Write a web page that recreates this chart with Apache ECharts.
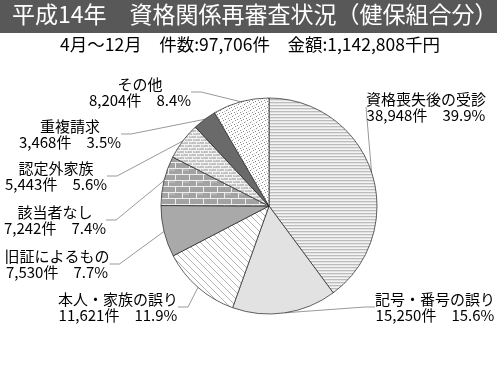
<!DOCTYPE html>
<html>
<head>
<meta charset="utf-8">
<script src="https://cdn.jsdelivr.net/npm/echarts@6/dist/echarts.min.js"></script>
<style>
  html, body { margin: 0; padding: 0; background: #fff; }
  #chart { width: 500px; height: 377px; }
</style>
</head>
<body>
<div id="chart"></div>
<script>
// 区分と件数 (平成14年4月～12月)
var categories = ['資格喪失後の受診', '記号・番号の誤り', '本人・家族の誤り', '旧証によるもの',
                  '該当者なし', '認定外家族', '重複請求', 'その他'];
var counts = [38948, 15250, 11621, 7530, 7242, 5443, 3468, 8204];

var titleText = '平成14年　資格関係再審査状況（健保組合分）';
var subText = '4月～12月　件数:97,706件　金額:1,142,808千円';

// ラベルの位置 (中心)
var labelPos = [[426, 107], [435, 307], [118, 307], [57, 264], [55, 220], [56, 176], [70, 134], [140, 92]];

var FONT = '"Noto Sans CJK JP", sans-serif';

// 模様
function makePattern(w, h, draw) {
    var c = document.createElement('canvas');
    c.width = w;
    c.height = h;
    var ctx = c.getContext('2d');
    draw(ctx, w, h);
    return {image: c, repeat: 'repeat'};
}

function px(ctx, color, list) {
    ctx.fillStyle = color;
    list.forEach(function (p) {
        ctx.fillRect(p[0], p[1], 1, 1);
    });
}

var stripes = makePattern(4, 3, function (ctx) {
    ctx.fillStyle = '#f4f4f4'; ctx.fillRect(0, 0, 4, 3);
    ctx.fillStyle = '#bcbcbc'; ctx.fillRect(0, 0, 4, 1);
    ctx.fillStyle = '#e2e2e2'; ctx.fillRect(0, 1, 4, 1);
});

var diagonal = makePattern(7, 7, function (ctx) {
    ctx.fillStyle = '#ffffff'; ctx.fillRect(0, 0, 7, 7);
    for (var i = 0; i < 7; i++) {
        px(ctx, '#b4b4b4', [[i, i]]);
    }
});

var brick = makePattern(14, 12, function (ctx) {
    ctx.fillStyle = '#a2a2a2'; ctx.fillRect(0, 0, 14, 12);
    ctx.fillStyle = '#b4b4b4'; ctx.fillRect(1, 1, 6, 2);
    ctx.fillStyle = '#ededed';
    ctx.fillRect(0, 0, 14, 1);
    ctx.fillRect(0, 6, 14, 1);
    ctx.fillRect(0, 0, 1, 6);
    ctx.fillRect(7, 6, 1, 6);
});

var smallBrick = makePattern(8, 6, function (ctx) {
    ctx.fillStyle = '#c2c2c2'; ctx.fillRect(0, 0, 8, 6);
    ctx.fillStyle = '#f2f2f2';
    ctx.fillRect(0, 0, 8, 1);
    ctx.fillRect(0, 3, 8, 1);
    ctx.fillRect(0, 0, 1, 3);
    ctx.fillRect(4, 3, 1, 3);
    ctx.fillStyle = '#d8d8d8';
    ctx.fillRect(2, 1, 2, 1);
    ctx.fillRect(6, 4, 2, 1);
});

var dots = makePattern(6, 6, function (ctx) {
    ctx.fillStyle = '#ffffff'; ctx.fillRect(0, 0, 6, 6);
    px(ctx, '#8a8a8a', [[1, 0], [4, 2], [0, 4], [3, 5]]);
    px(ctx, '#c8c8c8', [[5, 1], [2, 3]]);
});

var fills = [stripes, '#e2e2e2', diagonal, '#a9a9a9', brick, smallBrick, '#6a6a6a', dots];

function fmt(n) {
    return String(n).replace(/\B(?=(\d{3})+(?!\d))/g, ',');
}

var pieData = categories.map(function (name, i) {
    return {name: name, value: counts[i], itemStyle: {color: fills[i]}};
});

var chart = echarts.init(document.getElementById('chart'));

var option = {
    animation: false,
    graphic: [
        {
            type: 'rect',
            shape: {x: 0, y: 0, width: 497, height: 33},
            style: {fill: '#585858'},
            silent: true
        },
        {
            type: 'text',
            left: 12,
            top: 3,
            style: {text: titleText, fill: '#ffffff', font: '23px ' + FONT}
        },
        {
            type: 'text',
            left: 'center',
            top: 36,
            style: {text: subText, fill: '#000000', font: '17.5px ' + FONT}
        }
    ],
    series: [
        {
            type: 'pie',
            center: [269, 206],
            radius: 108,
            startAngle: 90,
            clockwise: true,
            percentPrecision: 1,
            avoidLabelOverlap: false,
            data: pieData,
            itemStyle: {borderColor: '#222', borderWidth: 0.7},
            label: {
                show: true,
                position: 'outside',
                color: '#000',
                fontFamily: 'Noto Sans CJK JP',
                fontSize: 15,
                lineHeight: 16,
                align: 'center',
                formatter: function (p) {
                    return p.name + '\n' + fmt(p.value) + '件　' + p.percent.toFixed(1) + '%';
                }
            },
            labelLine: {
                show: true,
                length: 10,
                length2: 10,
                lineStyle: {color: '#999', width: 1}
            },
            labelLayout: function (params) {
                var p = labelPos[params.dataIndex];
                return {x: p[0], y: p[1], align: 'center', verticalAlign: 'middle'};
            }
        }
    ]
};

chart.setOption(option);
</script>
</body>
</html>
